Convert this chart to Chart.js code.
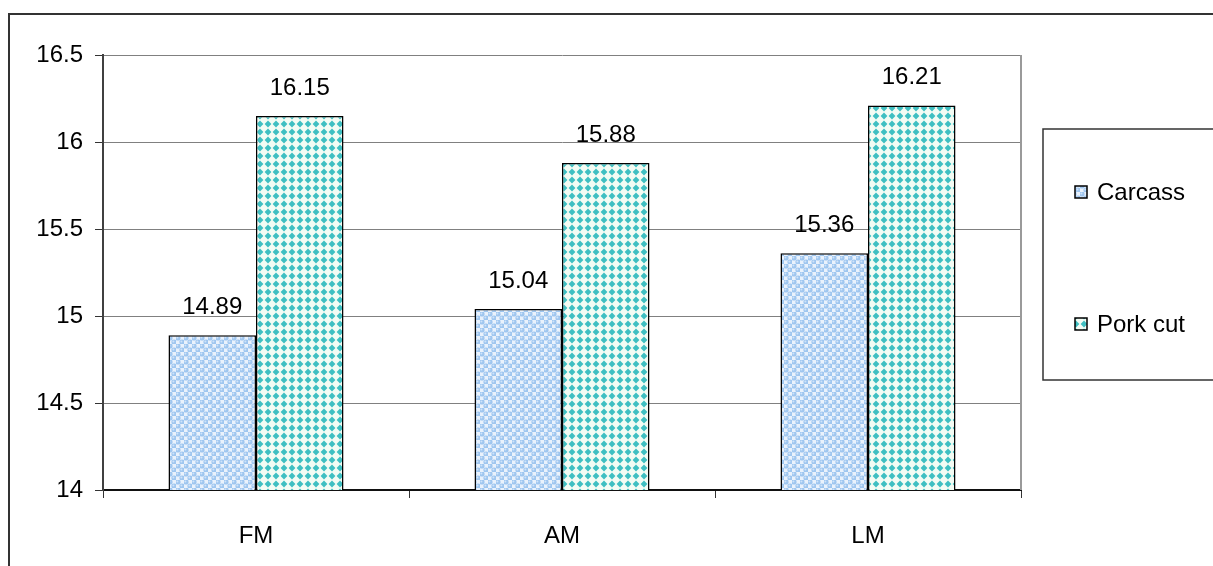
<!DOCTYPE html>
<html>
<head>
<meta charset="utf-8">
<script src="https://cdn.jsdelivr.net/npm/chart.js@4/dist/chart.umd.min.js"></script>
<style>
  html, body { margin: 0; padding: 0; background: #ffffff; }
  canvas { display: block; }
</style>
</head>
<body>
<canvas id="chart" width="1213" height="566"></canvas>
<script>
// Categories, series and axis ticks
const categories = ['FM', 'AM', 'LM'];
const carcass = [14.89, 15.04, 15.36];
const porkCut = [16.15, 15.88, 16.21];
const seriesNames = ['Carcass', 'Pork cut'];
const yTicks = [14, 14.5, 15, 15.5, 16, 16.5];

const FONT = '"Liberation Sans", Arial, sans-serif';

// Fill patterns: light-blue bubbles and teal diamonds
function bubblePattern() {
  const c = document.createElement('canvas');
  c.width = 8; c.height = 8;
  const g = c.getContext('2d');
  g.fillStyle = '#eaf2fc';
  g.fillRect(0, 0, 8, 8);
  [[2, 2], [6, 6]].forEach(([x, y]) => {
    g.fillStyle = '#9fc6ef';
    g.beginPath(); g.arc(x, y, 2.6, 0, Math.PI * 2); g.fill();
    g.fillStyle = '#cfe3f9';
    g.beginPath(); g.arc(x - 0.6, y - 0.6, 1, 0, Math.PI * 2); g.fill();
  });
  return g.createPattern(c, 'repeat');
}
function diamondPattern() {
  const c = document.createElement('canvas');
  c.width = 8; c.height = 8;
  const g = c.getContext('2d');
  g.fillStyle = '#f3fcf4';
  g.fillRect(0, 0, 8, 8);
  g.fillStyle = '#3fbfc2';
  g.beginPath();
  g.moveTo(4, 0.6); g.lineTo(7.4, 4); g.lineTo(4, 7.4); g.lineTo(0.6, 4);
  g.closePath(); g.fill();
  return g.createPattern(c, 'repeat');
}

const fills = [bubblePattern(), diamondPattern()];

// Outer frame, plot border, value labels and boxed legend
const decorations = {
  id: 'decorations',
  beforeDraw(chart) {
    const ctx = chart.ctx;
    ctx.save();
    ctx.strokeStyle = '#333333';
    ctx.lineWidth = 2;
    ctx.beginPath();
    ctx.moveTo(9, chart.height + 2);
    ctx.lineTo(9, 14);
    ctx.lineTo(chart.width + 2, 14);
    ctx.stroke();
    ctx.restore();
  },
  afterDraw(chart) {
    const ctx = chart.ctx;
    const a = chart.chartArea;
    ctx.save();
    // right edge of the plot area
    ctx.strokeStyle = '#9a9a9a';
    ctx.lineWidth = 2;
    ctx.beginPath();
    ctx.moveTo(a.right, a.top);
    ctx.lineTo(a.right, a.bottom);
    ctx.stroke();

    // values above the bars
    ctx.fillStyle = '#000000';
    ctx.font = '24px ' + FONT;
    ctx.textAlign = 'center';
    ctx.textBaseline = 'alphabetic';
    chart.data.datasets.forEach((ds, i) => {
      chart.getDatasetMeta(i).data.forEach((bar, j) => {
        ctx.fillText(ds.data[j].toFixed(2), bar.x, bar.y - 21);
      });
    });

    // legend box
    const lx = 1043, ly = 129, lw = 200, lh = 251;
    ctx.strokeStyle = '#333333';
    ctx.lineWidth = 1.5;
    ctx.strokeRect(lx, ly, lw, lh);
    const rows = [192, 324];
    ctx.textAlign = 'left';
    ctx.textBaseline = 'middle';
    chart.data.datasets.forEach((ds, i) => {
      const y = rows[i];
      ctx.fillStyle = ds.backgroundColor;
      ctx.fillRect(1075, y - 6, 12, 12);
      ctx.strokeStyle = '#000000';
      ctx.lineWidth = 1.5;
      ctx.strokeRect(1075, y - 6, 12, 12);
      ctx.fillStyle = '#000000';
      ctx.fillText(ds.label, 1097, y + 1);
    });
    ctx.restore();
  }
};

new Chart(document.getElementById('chart'), {
  type: 'bar',
  data: {
    labels: categories,
    datasets: [
      { label: seriesNames[0], data: carcass, backgroundColor: fills[0], borderColor: '#000000', borderWidth: 1.5 },
      { label: seriesNames[1], data: porkCut, backgroundColor: fills[1], borderColor: '#000000', borderWidth: 1.5 }
    ]
  },
  options: {
    responsive: false,
    devicePixelRatio: 1,
    animation: false,
    events: [],
    layout: { padding: { left: 0, top: 55, right: 192, bottom: 0 } },
    datasets: { bar: { categoryPercentage: 0.572, barPercentage: 1 } },
    plugins: { legend: { display: false }, tooltip: { enabled: false } },
    scales: {
      x: {
        afterFit(scale) { scale.height = 76; },
        grid: { drawOnChartArea: false, drawTicks: true, tickLength: 8, color: '#333333', offset: true },
        border: { color: '#111111', width: 2 },
        ticks: { color: '#000000', font: { family: FONT, size: 24 }, padding: 24 }
      },
      y: {
        min: 14,
        max: 16.5,
        afterFit(scale) { scale.width = 103; },
        afterBuildTicks(scale) { scale.ticks = yTicks.map(v => ({ value: v })); },
        grid: { color: '#808080', lineWidth: 1, tickLength: 8, tickColor: '#333333' },
        border: { color: '#404040', width: 2 },
        ticks: {
          color: '#000000',
          font: { family: FONT, size: 24 },
          padding: 12,
          callback: v => String(v)
        }
      }
    }
  },
  plugins: [decorations]
});
</script>
</body>
</html>
